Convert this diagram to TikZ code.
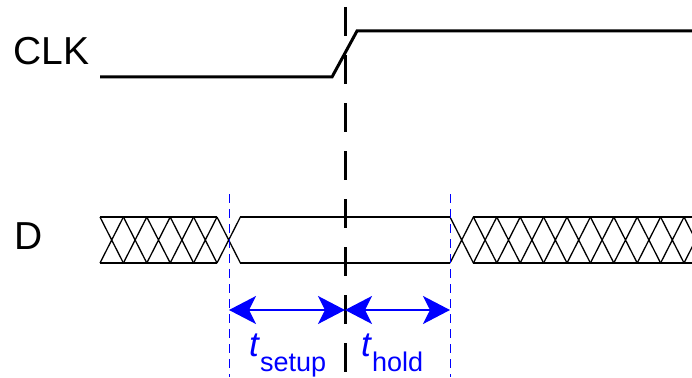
\documentclass[tikz,border=0pt]{standalone}
\usepackage{fontspec}
\setmainfont{Liberation Sans}
\usetikzlibrary{arrows.meta}

\tikzset{
  clkline/.style  = {line width=3pt},
  sigline/.style  = {line width=1.3pt},
  edgeline/.style = {line width=3pt, dash pattern=on 29pt off 19pt},
  markline/.style = {blue, line width=1pt, dash pattern=on 9pt off 6pt},
  spanarrow/.style= {blue, line width=1.5pt,
                     {Stealth[length=27pt,width=28pt,inset=7pt]}-{Stealth[length=27pt,width=28pt,inset=7pt]}},
  siglabel/.style = {anchor=base west, inner sep=0pt, font=\fontsize{39}{39}\selectfont},
  tlabel/.style   = {anchor=base west, inner sep=0pt, blue, font=\fontsize{35}{35}\selectfont},
}
\newcommand{\tsub}[1]{\textit{t}\raisebox{-15pt}{\fontsize{27}{27}\selectfont #1}}

\begin{document}
\begin{tikzpicture}[x=1pt, y=-1pt]
        \clip (0,0) rectangle (692,377);

        \node [siglabel] (clk) at (13,65)  {CLK};
        \node [siglabel] (d)   at (14,249) {D};

        % clock
        \coordinate (clklo) at (100,77);
        \coordinate (rise0) at (332,77);
        \coordinate (rise1) at (357,31);
        \coordinate (clkhi) at (692,31);
        \draw [clkline] (clklo) -- (rise0) -- (rise1) -- (clkhi);

        % data: invalid, valid, invalid
        \foreach \i in {0,...,5}
          \draw [sigline] ({100+23.4*\i},217) -- ({123.4+23.4*\i},263)
                          ({100+23.4*\i},263) -- ({123.4+23.4*\i},217);
        \draw [sigline] (100,217) -- (217,217)  (100,263) -- (217,263);
        \draw [sigline] (240,217) -- (450,217)  (240,263) -- (450,263);
        \foreach \i in {0,...,10}
          \draw [sigline] ({450+23.4*\i},217) -- ({473.4+23.4*\i},263)
                          ({450+23.4*\i},263) -- ({473.4+23.4*\i},217);
        \draw [sigline] (473,217) -- (692,217)  (473,263) -- (692,263);

        % clock edge and window
        \coordinate (edgetop) at (345,7);
        \coordinate (edgebot) at (345,377);
        \draw [edgeline] (edgetop) -- (edgebot);

        \coordinate (sutop) at (229,194);
        \coordinate (subot) at (229,377);
        \coordinate (hotop) at (450,194);
        \coordinate (hobot) at (450,377);
        \draw [markline] (sutop) -- (subot);
        \draw [markline] (hotop) -- (hobot);

        \coordinate (suend) at (229,310);
        \coordinate (mid)   at (345,310);
        \coordinate (hoend) at (450,310);
        \draw [spanarrow] (suend) -- (mid);
        \draw [spanarrow] (mid) -- (hoend);

        \node [tlabel] (tsetup) at (249,356) {\tsub{setup}};
        \node [tlabel] (thold)  at (361,356) {\tsub{hold}};
      \end{tikzpicture}
\end{document}
